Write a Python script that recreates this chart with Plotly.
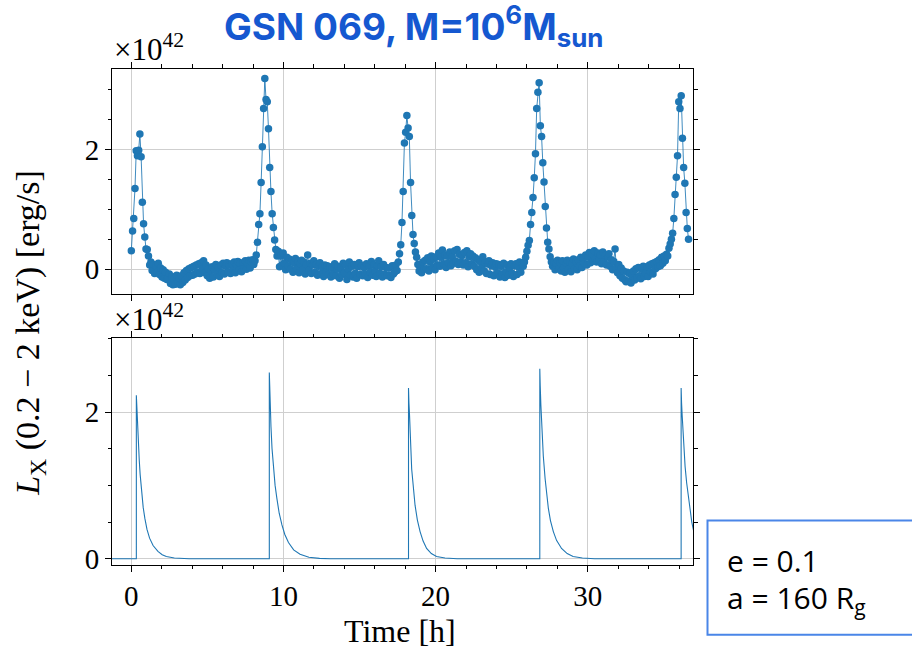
import plotly.graph_objects as go

# ---------------- data ----------------
# observed light curve (0.2-2 keV), units of 1e42 erg/s, regular cadence
OBS_START_H = 0.0
OBS_CADENCE_H = 0.0805
L_OBS = [
    0.31, 0.64, 0.85, 1.35, 1.98, 1.90, 1.99, 2.26, 1.88, 1.12,
    0.76, 0.54, 0.34, 0.33, 0.22, 0.07, 0.12, -0.02, 0.08, -0.07,
    0.06, -0.05, 0.10, -0.09, 0.02, -0.13, -0.01, -0.15, -0.05, -0.17,
    -0.14, -0.08, -0.24, -0.12, -0.26, -0.16, -0.25, -0.10, -0.23, -0.15,
    -0.26, -0.11, -0.22, -0.06, -0.18, -0.02, -0.14, 0.01, -0.11, 0.03,
    -0.10, 0.05, -0.08, 0.07, -0.05, 0.09, -0.07, 0.11, 0.00, 0.14,
    -0.06, 0.07, -0.11, 0.01, -0.15, -0.02, 0.04, -0.13, -0.01, 0.08,
    -0.09, 0.03, -0.12, 0.07, -0.06, 0.10, -0.08, 0.05, 0.11, -0.05,
    0.07, -0.07, 0.09, -0.02, 0.12, -0.06, 0.08, 0.13, -0.01, 0.10,
    -0.04, 0.11, 0.01, 0.14, 0.00, 0.09, 0.15, 0.02, 0.12, 0.16,
    0.08, 0.14, 0.24, 0.45, 0.75, 0.93, 1.45, 2.05, 2.69, 3.19,
    2.84, 2.80, 2.35, 1.70, 1.30, 0.93, 0.70, 0.49, 0.33, 0.22,
    0.30, 0.04, 0.22, 0.07, 0.27, 0.10, -0.01, 0.20, 0.05, 0.17,
    0.00, 0.14, -0.05, 0.11, 0.18, 0.01, 0.13, -0.06, 0.09, 0.15,
    -0.01, 0.12, -0.08, 0.08, 0.24, -0.02, 0.10, -0.07, 0.07, 0.14,
    -0.05, 0.08, -0.10, 0.05, 0.11, -0.07, 0.04, -0.12, 0.07, -0.04,
    0.06, -0.09, 0.04, -0.13, 0.02, -0.08, 0.09, -0.11, 0.00, 0.05,
    -0.15, 0.03, -0.09, 0.10, -0.06, 0.07, -0.17, 0.00, 0.12, -0.10,
    0.05, -0.13, 0.08, -0.07, -0.15, 0.04, 0.11, -0.09, 0.06, -0.11,
    0.03, -0.08, 0.09, -0.14, 0.05, -0.05, 0.13, -0.10, 0.07, -0.03,
    -0.12, 0.06, 0.14, -0.07, 0.04, -0.13, 0.08, -0.09, 0.03, -0.11,
    0.02, -0.10, -0.14, 0.06, -0.08, -0.05, 0.07, -0.02, 0.12, 0.26,
    0.41, 0.78, 1.30, 2.11, 2.29, 2.57, 2.36, 2.22, 1.45, 0.90,
    0.58, 0.43, 0.29, 0.20, 0.08, -0.03, 0.08, -0.06, 0.12, 0.00,
    0.15, 0.01, 0.19, -0.03, 0.12, 0.22, 0.03, 0.17, -0.01, 0.21,
    0.07, 0.27, 0.05, 0.20, 0.32, 0.09, 0.24, 0.03, 0.22, 0.11,
    0.29, 0.06, 0.21, 0.10, 0.31, 0.13, 0.33, 0.08, 0.25, 0.12,
    0.23, 0.07, 0.28, 0.11, 0.31, 0.04, 0.21, 0.26, 0.09, 0.22,
    0.05, 0.19, -0.01, 0.16, -0.05, 0.13, 0.02, 0.21, -0.03, 0.11,
    -0.07, 0.09, 0.14, -0.09, 0.06, 0.11, -0.11, 0.04, 0.09, -0.06,
    0.08, -0.13, 0.05, -0.08, 0.10, -0.14, -0.04, 0.07, -0.10, 0.03,
    0.09, -0.07, -0.12, 0.06, 0.09, -0.09, 0.04, 0.12, -0.05, 0.07,
    0.05, 0.12, 0.20, 0.30, 0.40, 0.48, 0.75, 0.95, 1.20, 1.53,
    1.93, 2.69, 2.96, 3.12, 2.40, 2.22, 1.78, 1.46, 1.05, 0.69,
    0.45, 0.34, 0.21, 0.12, 0.05, 0.12, -0.01, 0.10, 0.15, 0.01,
    0.11, -0.03, 0.14, 0.02, -0.05, 0.10, 0.15, 0.00, 0.12, -0.04,
    0.09, 0.17, 0.01, 0.13, -0.01, 0.16, 0.06, 0.20, 0.03, 0.18,
    0.09, 0.24, 0.07, 0.21, 0.28, 0.11, 0.26, 0.14, 0.31, 0.17,
    0.12, 0.27, 0.15, 0.24, 0.09, 0.29, 0.13, 0.23, 0.07, 0.21,
    0.26, 0.05, 0.16, -0.01, 0.13, 0.34, 0.02, -0.06, 0.08, -0.11,
    0.02, -0.15, -0.03, -0.18, -0.21, -0.05, -0.20, -0.07, -0.23, -0.10,
    -0.03, -0.18, 0.01, -0.14, 0.03, -0.11, -0.16, 0.00, 0.05, -0.12,
    -0.07, 0.04, -0.12, 0.07, -0.04, 0.09, -0.08, 0.11, 0.01, 0.13,
    0.04, 0.16, 0.06, 0.20, 0.10, 0.22, 0.14, 0.25, 0.22, 0.35,
    0.42, 0.50, 0.60, 0.85, 1.25, 1.54, 1.90, 2.80, 2.69, 2.90,
    2.19, 1.70, 1.44, 0.95, 0.68, 0.50,
]
T_OBS = [OBS_START_H + OBS_CADENCE_H * i for i in range(len(L_OBS))]

# model light curve (hours, 1e42 erg/s)
MODEL_T = [
    -1.30, 0.33,
    0.33, 0.36, 0.39, 0.43, 0.47, 0.52, 0.58, 0.67, 0.78, 0.89, 1.03, 1.20, 1.43, 1.75, 2.03, 2.30, 2.83, 3.80,
    9.07,
    9.07, 9.10, 9.14, 9.18, 9.25, 9.35, 9.45, 9.57, 9.72, 9.90, 10.09, 10.33, 10.67, 11.09, 11.67, 12.37, 13.07,
    18.22,
    18.22, 18.25, 18.29, 18.33, 18.38, 18.43, 18.52, 18.65, 18.80, 18.98, 19.18, 19.41, 19.72, 20.06, 20.62, 21.42,
    26.85,
    26.85, 26.88, 26.92, 26.98, 27.08, 27.20, 27.30, 27.41, 27.55, 27.74, 27.95, 28.28, 28.65, 29.04, 29.65, 30.45,
    36.14,
    36.14, 36.17, 36.21, 36.25, 36.32, 36.40, 36.50, 36.62, 36.74, 36.84, 36.95, 37.04,
]
MODEL_L = [
    0.0, 0.0,
    2.23, 2.05, 1.89, 1.68, 1.52, 1.35, 1.15, 0.91, 0.70, 0.55, 0.40, 0.28, 0.18, 0.10, 0.055, 0.03, 0.01, 0.0,
    0.0,
    2.54, 2.30, 2.05, 1.80, 1.50, 1.22, 1.00, 0.82, 0.62, 0.46, 0.33, 0.22, 0.12, 0.06, 0.02, 0.005, 0.0,
    0.0,
    2.33, 2.12, 1.95, 1.80, 1.48, 1.22, 0.98, 0.73, 0.53, 0.37, 0.24, 0.14, 0.07, 0.03, 0.01, 0.0,
    0.0,
    2.59, 2.35, 2.10, 1.80, 1.40, 1.09, 0.88, 0.69, 0.52, 0.37, 0.25, 0.14, 0.07, 0.03, 0.01, 0.0,
    0.0,
    2.33, 2.12, 1.95, 1.80, 1.50, 1.26, 1.04, 0.82, 0.63, 0.50, 0.39, 0.33,
]

X_TICKS = [0, 10, 20, 30]
Y_TICKS = [0, 2]
TITLE = "GSN 069, M=10<sup>6</sup>M<sub>sun</sub>"
PARAM_LINES = ["e = 0.1", "a = 160 R<sub>g</sub>"]

# ---------------- layout helpers ----------------
W, H = 912, 656
def px(x):
    return x / W
def py(y):
    return 1 - y / H

BLUE = "#1f77b4"
SERIF = "Liberation Serif, serif"

def tickfont():
    return dict(family=SERIF, size=29, color="black")

fig = go.Figure()
fig.add_trace(go.Scatter(
    x=T_OBS, y=L_OBS, mode="lines+markers",
    marker=dict(size=7.5, color=BLUE),
    line=dict(color="rgba(31,119,180,0.85)", width=1),
    xaxis="x", yaxis="y", showlegend=False,
))
fig.add_trace(go.Scatter(
    x=MODEL_T, y=MODEL_L, mode="lines",
    line=dict(color=BLUE, width=1.1),
    xaxis="x2", yaxis="y2", showlegend=False,
))

def axis_common(dtick_minor):
    return dict(
        showline=True, linecolor="black", linewidth=1, mirror="allticks",
        ticks="outside", ticklen=6, tickwidth=1, tickcolor="black",
        showgrid=True, gridcolor="#cfcfcf", gridwidth=1, zeroline=False,
        minor=dict(ticks="outside", ticklen=3.5, tickwidth=1, tickcolor="black",
                   showgrid=False, dtick=dtick_minor),
    )

XDOM = [px(112), px(693.3)]
XRANGE = [-1.27, 36.94]

fig.update_layout(
    width=W, height=H,
    margin=dict(l=0, r=0, t=0, b=0),
    paper_bgcolor="white", plot_bgcolor="white",
    font=dict(family=SERIF, size=29, color="black"),
    xaxis=dict(domain=XDOM, range=XRANGE, tickmode="array", tickvals=X_TICKS,
               showticklabels=False, anchor="y", **axis_common(2)),
    xaxis2=dict(domain=XDOM, range=XRANGE, tickmode="array", tickvals=X_TICKS,
                showticklabels=True, anchor="y2", **axis_common(2)),
    yaxis=dict(domain=[py(298.3), py(70)], range=[-0.41, 3.35], tickmode="array",
               tickvals=Y_TICKS, anchor="x", **axis_common(0.5)),
    yaxis2=dict(domain=[py(573.3), py(343.3)], range=[-0.08, 3.01], tickmode="array",
                tickvals=Y_TICKS, anchor="x2", **axis_common(0.5)),
)
fig.update_xaxes(tickfont=tickfont())
fig.update_yaxes(tickfont=tickfont())

ann = []
# title
ann.append(dict(x=px(413), y=py(26), xref="paper", yref="paper", text="<b>" + TITLE + "</b>",
                showarrow=False, xanchor="center", yanchor="middle",
                font=dict(family="Inter", size=37, color="#1558d0")))
# multiplier labels
for ytop in (70, 344):
    ann.append(dict(x=px(112), y=py(ytop), xref="paper", yref="paper", text="×10<sup>42</sup>",
                    showarrow=False, xanchor="left", yanchor="bottom",
                    font=dict(family=SERIF, size=31, color="black")))
# axis titles
ann.append(dict(x=px(30), y=py(338), xref="paper", yref="paper",
                text="<i>L</i><sub>X</sub> (0.2 − 2 keV) [erg/s]", textangle=-90,
                showarrow=False, xanchor="center", yanchor="middle",
                font=dict(family=SERIF, size=34, color="black")))
ann.append(dict(x=px(400), y=py(641), xref="paper", yref="paper", text="Time [h]",
                showarrow=False, xanchor="center", yanchor="middle",
                font=dict(family=SERIF, size=32, color="black")))
# parameter box text
for txt, yc in zip(PARAM_LINES, (569, 608)):
    ann.append(dict(x=px(725), y=py(yc), xref="paper", yref="paper", text=txt,
                    showarrow=False, xanchor="left", yanchor="middle",
                    font=dict(family="Open Sans", size=30, color="black")))
fig.update_layout(annotations=ann)

fig.add_shape(type="rect", xref="paper", yref="paper",
              x0=px(707.5), x1=px(918), y0=py(644.5), y1=py(528.5),
              line=dict(color="#4a86e8", width=2), fillcolor="rgba(0,0,0,0)")

fig.write_html("out.html")
